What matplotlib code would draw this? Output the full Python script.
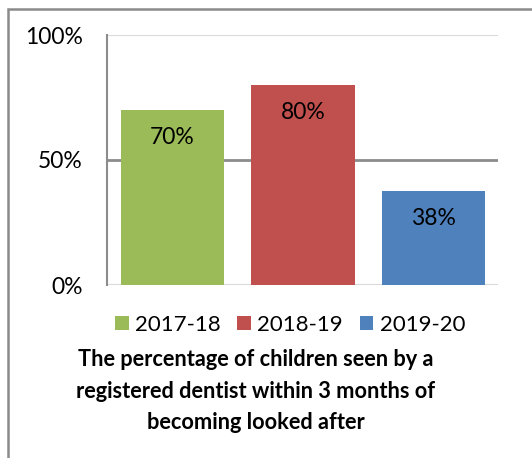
import matplotlib
matplotlib.use('Agg')
import matplotlib.pyplot as plt
from matplotlib.patches import Rectangle, Patch

# data
years = ['2017-18', '2018-19', '2019-20']
values = [0.70, 0.80, 0.376]
labels = ['70%', '80%', '38%']
colors = ['#9BBB59', '#C0504D', '#4F81BD']
ticks = [0, 0.5, 1.0]
tick_labels = ['0%', '50%', '100%']
title = 'The percentage of children seen by a\nregistered dentist within 3 months of\nbecoming looked after'

plt.rcParams['font.family'] = ['Lato', 'DejaVu Sans']

W, H = 532, 458
fig = plt.figure(figsize=(W / 100, H / 100), dpi=100)

# outer chart border
fig.patches.append(Rectangle((7.5 / W, -0.1), 1.2, (H - 8.5) / H + 0.1,
                             transform=fig.transFigure, fill=False,
                             edgecolor='#8a8a8a', linewidth=1.8))

ax = fig.add_axes([107 / W, (H - 285) / H, (498 - 107) / W, 250 / H])
x = list(range(len(years)))
bars = ax.bar(x, values, width=0.79, color=colors, zorder=3)
ax.set_xlim(-0.502, 2.494)
ax.set_ylim(0, 1.0)

ax.axhline(1.0, color='#d9d9d9', lw=1.5, zorder=1)
ax.axhline(0.5, color='#8c8c8c', lw=2, zorder=1)
ax.axhline(0.0, color='#d9d9d9', lw=1.5, zorder=1)

for s in ['top', 'right', 'bottom']:
    ax.spines[s].set_visible(False)
ax.spines['left'].set_color('#8c8c8c')
ax.spines['left'].set_linewidth(1.5)
ax.set_xticks([])
ax.set_yticks(ticks)
ax.set_yticklabels(tick_labels, fontsize=16.5)
ax.tick_params(axis='y', length=0, pad=17.5)

for b, lab in zip(bars, labels):
    ax.text(b.get_x() + b.get_width() / 2, b.get_height() - 0.11, lab,
            ha='center', va='center', fontsize=16.5, zorder=4)

handles = [Patch(facecolor=c) for c in colors]
fig.legend(handles, years, loc='center', bbox_to_anchor=(290 / W, 1 - 325 / H),
           ncol=3, frameon=False, fontsize=16, handlelength=0.62, handleheight=0.62,
           handletextpad=0.28, columnspacing=0.75)

fig.text(256 / W, 1 - 391 / H, title, ha='center', va='center', fontsize=15.7,
         fontweight='bold', linespacing=1.62)

fig.savefig('out.png', dpi=100)
